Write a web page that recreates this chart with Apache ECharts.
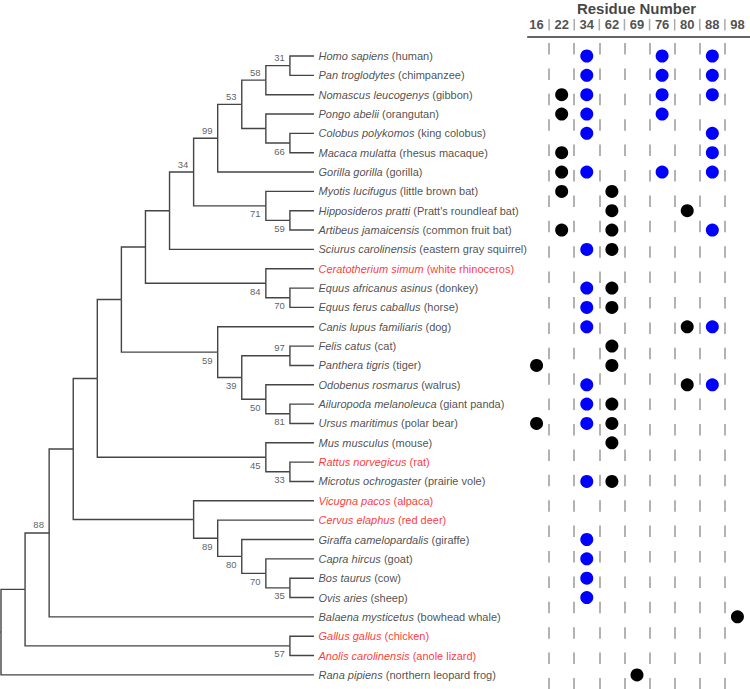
<!DOCTYPE html>
<html><head><meta charset="utf-8">
<script src="https://cdn.jsdelivr.net/npm/echarts@6.0.0/dist/echarts.min.js"></script>
<style>html,body{margin:0;padding:0;background:#fff}#c{width:750px;height:689px}</style>
</head><body><div id="c"></div>
<script>
// ---------- DATA ----------
const headerTitle = 'Residue Number';
const residues = ['16','22','34','62','69','76','80','88','98'];

const species = [
  'Homo sapiens','Pan troglodytes','Nomascus leucogenys','Pongo abelii','Colobus polykomos',
  'Macaca mulatta','Gorilla gorilla','Myotis lucifugus','Hipposideros pratti','Artibeus jamaicensis',
  'Sciurus carolinensis','Ceratotherium simum','Equus africanus asinus','Equus ferus caballus',
  'Canis lupus familiaris','Felis catus','Panthera tigris','Odobenus rosmarus','Ailuropoda melanoleuca',
  'Ursus maritimus','Mus musculus','Rattus norvegicus','Microtus ochrogaster','Vicugna pacos',
  'Cervus elaphus','Giraffa camelopardalis','Capra hircus','Bos taurus','Ovis aries',
  'Balaena mysticetus','Gallus gallus','Anolis carolinensis','Rana pipiens'
];
const commonNames = [
  'human','chimpanzee','gibbon','orangutan','king colobus','rhesus macaque','gorilla',
  'little brown bat',"Pratt's roundleaf bat",'common fruit bat','eastern gray squirrel',
  'white rhinoceros','donkey','horse','dog','cat','tiger','walrus','giant panda','polar bear',
  'mouse','rat','prairie vole','alpaca','red deer','giraffe','goat','cow','sheep',
  'bowhead whale','chicken','anole lizard','northern leopard frog'
];
const redTaxa = [11, 21, 23, 24, 30, 31];

// tree topology (leaves = taxon index, internal labels = bootstrap)
const treeNewick = '(((((((((((((0,1)31,2)58,(3,(4,5)66))53,6)99,(7,(8,9)59)71)34,10),(11,(12,13)70)84),(14,((15,16)97,(17,(18,19)81)50)39)59),(20,(21,22)33)45),(23,(24,(25,(26,(27,28)35)70)80)89)),29)88,(30,31)57),32)';

const blueResidues = [
  ['34','76','88'],['34','76','88'],['34','76','88'],['34','76'],['34','88'],['88'],['34','76','88'],
  [],[],['88'],['34'],[],['34'],['34'],['34','88'],[],[],['34','88'],['34'],['34'],
  [],[],['34'],[],[],['34'],['34'],['34'],['34'],[],[],[],[]
];
const blackResidues = [
  [],[],['22'],['22'],[],['22'],['22'],['22','62'],['62','80'],['22','62'],['62'],[],['62'],['62'],
  ['80'],['62'],['16','62'],['80'],['62'],['16','62'],['62'],[],['62'],[],[],[],[],[],[],
  ['98'],[],[],['69']
];

// ---------- TREE LAYOUT (in data units: x = level, y = row) ----------
function parseNewick(s) {
  let i = 0;
  function node() {
    if (s[i] === '(') {
      i++;
      const kids = [node()];
      while (s[i] === ',') { i++; kids.push(node()); }
      i++;
      let lab = '';
      while (i < s.length && /[0-9]/.test(s[i])) lab += s[i++];
      return { kids, label: lab };
    }
    let n = '';
    while (i < s.length && /[0-9]/.test(s[i])) n += s[i++];
    return { leaf: +n };
  }
  return node();
}
const tree = parseNewick(treeNewick);
function height(n) { return n.kids ? 1 + Math.max(...n.kids.map(height)) : 0; }
const maxH = height(tree);
function place(n) {
  if (!n.kids) { n.x = maxH; n.y = n.leaf; return; }
  n.kids.forEach(place);
  n.x = maxH - height(n);
  n.y = (n.kids[0].y + n.kids[n.kids.length - 1].y) / 2;
}
place(tree);

const branchSegs = [], bootUp = [], bootDown = [];
(function walk(n) {
  if (!n.kids) return;
  n.kids.forEach((k, idx) => {
    branchSegs.push({ coords: [[n.x, n.y], [n.x, k.y], [k.x, k.y]] });
    if (k.kids && k.label) (idx === 0 ? bootUp : bootDown).push({ value: [k.x, k.y], name: k.label });
    walk(k);
  });
})(tree);
branchSegs.push({ coords: [[tree.x - 0.04, tree.y], [tree.x, tree.y]] });

const tipLabels = species.map((s, i) => ({ value: [maxH, i], name: s, common: commonNames[i], red: redTaxa.includes(i) }));
const blueDots = [], blackDots = [];
blueResidues.forEach((arr, i) => arr.forEach(r => blueDots.push([r, i])));
blackResidues.forEach((arr, i) => arr.forEach(r => blackDots.push([r, i])));

// header: residue labels centred on columns, separators between columns
const headerLabels = residues.map((r, k) => ({ value: [k, 0.5], name: r }));
const headerSeps = residues.slice(1).map((r, k) => ({ coords: [[k + 0.5, 0], [k + 0.5, 1]] }));
const headerTitleData = [{ value: [(residues.length - 1) / 2, 1], name: headerTitle }];

// ---------- CHART ----------
const FONT = '"Liberation Sans", Arial, sans-serif';
const ROW_MIN = -0.672, ROW_MAX = 32.73;
const chart = echarts.init(document.getElementById('c'), null, { renderer: 'svg' });
const hidden = { color: 'rgba(0,0,0,0)' };
chart.setOption({
  animation: false,
  backgroundColor: '#fff',
  grid: [
    { left: 1, top: 43, width: 313, height: 646 },          // tree
    { left: 524, top: 43, width: 228.6, height: 646 },      // dot matrix
    { left: 524, top: 19, width: 228.6, height: 11.5 },     // header row
    { left: 527.7, top: 37, right: 0, height: 1 }           // header rule
  ],
  xAxis: [
    { gridIndex: 0, type: 'value', min: 0, max: maxH, show: false },
    { gridIndex: 1, type: 'category', data: residues, position: 'top', boundaryGap: true,
      axisLine: { show: false, onZero: false },
      axisTick: { show: false },
      axisLabel: { show: false },
      splitLine: { show: true, interval: 0, showMinLine: false, showMaxLine: false,
        lineStyle: { color: '#999', width: 1.5, type: [11.5, 13.9] } } },
    { gridIndex: 2, type: 'value', min: -0.5, max: residues.length - 0.5, show: false },
    { gridIndex: 3, type: 'value', min: 0, max: 1, position: 'top',
      axisLine: { show: true, onZero: false, lineStyle: { color: '#333', width: 1.5 } },
      axisTick: { show: false }, axisLabel: { show: false }, splitLine: { show: false } }
  ],
  yAxis: [
    { gridIndex: 0, type: 'value', min: ROW_MIN, max: ROW_MAX, inverse: true, show: false },
    { gridIndex: 1, type: 'value', min: ROW_MIN, max: ROW_MAX, inverse: true, show: false },
    { gridIndex: 2, type: 'value', min: 0, max: 1, show: false },
    { gridIndex: 3, type: 'value', min: 0, max: 1, show: false }
  ],
  series: [
    { type: 'lines', coordinateSystem: 'cartesian2d', xAxisIndex: 0, yAxisIndex: 0, polyline: true,
      silent: true, data: branchSegs, lineStyle: { color: '#444', width: 1.4, opacity: 1 } },
    { type: 'scatter', xAxisIndex: 0, yAxisIndex: 0, symbolSize: 1, itemStyle: hidden, silent: true,
      data: bootUp,
      label: { show: true, formatter: p => p.name, position: [-10, -7.5], align: 'center', verticalAlign: 'middle',
        fontFamily: FONT, fontSize: 9.5, color: '#333' } },
    { type: 'scatter', xAxisIndex: 0, yAxisIndex: 0, symbolSize: 1, itemStyle: hidden, silent: true,
      data: bootDown,
      label: { show: true, formatter: p => p.name, position: [-10, 8.5], align: 'center', verticalAlign: 'middle',
        fontFamily: FONT, fontSize: 9.5, color: '#333' } },
    { type: 'scatter', xAxisIndex: 0, yAxisIndex: 0, symbolSize: 1, itemStyle: hidden, silent: true,
      data: tipLabels,
      label: { show: true, position: 'right', distance: 4, fontFamily: FONT, fontSize: 11, color: '#222',
        formatter: p => p.data.red ? '{ir|' + p.data.name + '} {nr|(' + p.data.common + ')}'
                                   : '{i|' + p.data.name + '} {n|(' + p.data.common + ')}',
        rich: {
          i: { fontStyle: 'italic', fontFamily: FONT, fontSize: 11, color: '#222' },
          n: { fontFamily: FONT, fontSize: 11, color: '#222' },
          ir: { fontStyle: 'italic', fontFamily: FONT, fontSize: 11, color: '#ff0000' },
          nr: { fontFamily: FONT, fontSize: 11, color: '#ff0000' }
        } } },
    { type: 'scatter', xAxisIndex: 1, yAxisIndex: 1, symbolSize: 13, silent: true,
      itemStyle: { color: '#0000ff', opacity: 1 }, data: blueDots },
    { type: 'scatter', xAxisIndex: 1, yAxisIndex: 1, symbolSize: 13, silent: true,
      itemStyle: { color: '#000000', opacity: 1 }, data: blackDots },
    // header
    { type: 'lines', coordinateSystem: 'cartesian2d', xAxisIndex: 2, yAxisIndex: 2, polyline: true,
      silent: true, data: headerSeps, lineStyle: { color: '#aaa', width: 1.5, opacity: 1 } },
    { type: 'scatter', xAxisIndex: 2, yAxisIndex: 2, symbolSize: 1, itemStyle: hidden, silent: true,
      data: headerLabels,
      label: { show: true, position: 'inside', formatter: p => p.name, align: 'center', verticalAlign: 'middle',
        fontFamily: FONT, fontSize: 13, fontWeight: 'bold', color: '#222' } },
    { type: 'scatter', xAxisIndex: 2, yAxisIndex: 2, symbolSize: 1, itemStyle: hidden, silent: true,
      data: headerTitleData,
      label: { show: true, position: [0, -10.5], formatter: p => p.name, align: 'center', verticalAlign: 'middle',
        fontFamily: FONT, fontSize: 15, fontWeight: 'bold', color: '#111' } }
  ]
});
</script></body></html>
